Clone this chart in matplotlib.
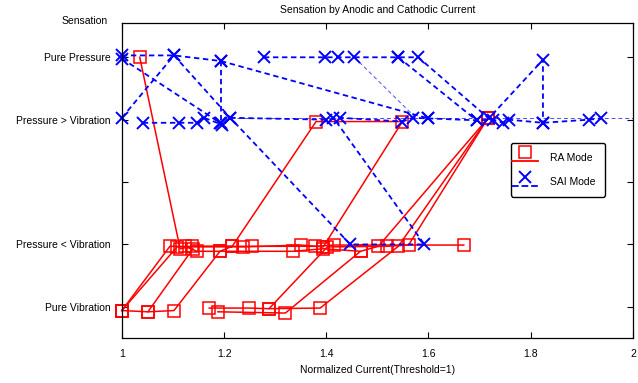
import matplotlib
matplotlib.use('Agg')
import matplotlib.pyplot as plt
from matplotlib.lines import Line2D
from matplotlib.legend_handler import HandlerBase

plt.rcParams['font.family'] = ['Liberation Sans', 'DejaVu Sans']

title = 'Sensation by Anodic and Cathodic Current'
xlabel = 'Normalized Current(Threshold=1)'
ylabel = 'Sensation'
ytick_vals = [1, 2, 3, 4, 5]
ytick_labels = ['Pure Vibration', 'Pressure < Vibration', '', 'Pressure > Vibration', 'Pure Pressure']
xtick_vals = [1, 1.2, 1.4, 1.6, 1.8, 2]
xtick_labels = ['1', '1.2', '1.4', '1.6', '1.8', '2']

# RA mode runs (normalized current, sensation)
ra_x = [
    [1.035, 1.114, 1.137, 1.255, 1.378, 1.416, 1.669],
    [1.0, 1.051, 1.102, 1.192, 1.216, 1.38, 1.549, 1.394, 1.351, 1.237, 1.094, 1.0],
    [1.051, 1.139, 1.124, 1.147, 1.192, 1.335, 1.394, 1.467],
    [1.188, 1.32, 1.467, 1.502, 1.716],
    [1.171, 1.249, 1.288, 1.388, 1.541, 1.716],
    [1.288, 1.402, 1.518, 1.561, 1.716],
    [1.0, 1.108, 1.216],
]
ra_y = [
    [5.0, 1.93, 1.97, 1.97, 1.97, 1.99, 1.99],
    [0.94, 0.92, 0.94, 1.89, 1.97, 3.97, 3.97, 1.96, 1.99, 1.96, 1.97, 0.94],
    [0.92, 1.93, 1.97, 1.89, 1.89, 1.89, 1.93, 1.89],
    [0.92, 0.90, 1.89, 1.97, 4.02],
    [0.98, 0.98, 0.97, 0.98, 1.97, 4.02],
    [0.97, 1.96, 1.97, 1.99, 4.02],
    [0.94, 1.96, 1.97],
]

# SAI mode runs
sai_x = [
    [1.0, 1.102, 1.212, 1.447, 1.592, 1.414],
    [1.0, 1.102, 1.194, 1.194],
    [1.0, 1.192],
    [1.194, 1.6],
    [1.278, 1.398, 1.422, 1.455, 1.541, 1.58, 1.718, 1.824, 1.824],
    [1.541, 1.694],
    [1.041, 1.112, 1.147, 1.161, 1.196],
    [1.212, 1.40, 1.427, 1.549, 1.569, 1.6, 1.694, 1.727, 1.745, 1.757, 1.824, 1.914, 1.937],
]
sai_y = [
    [4.03, 5.03, 4.03, 2.0, 2.0, 4.03],
    [5.03, 5.03, 4.94, 3.95],
    [4.98, 3.95],
    [4.94, 4.02],
    [5.0, 5.0, 5.0, 5.0, 5.0, 5.0, 4.02, 4.96, 3.95],
    [5.0, 3.99],
    [3.95, 3.95, 3.95, 4.03, 3.92],
    [4.03, 4.0, 4.03, 3.97, 4.03, 4.02, 3.99, 4.0, 3.95, 4.0, 3.95, 4.0, 4.02],
]
# thin guide runs
thin_x = [[1.455, 1.575], [1.212, 2.05]]
thin_y = [[5.0, 4.03], [4.02, 4.02]]


class MarkerAboveLine(HandlerBase):
    # matlab style legend entry: marker sits above the line sample
    def create_artists(self, legend, orig_handle, xdescent, ydescent,
                       width, height, fontsize, trans):
        x0 = -xdescent - 6
        yc = -ydescent + height / 2
        line = Line2D([x0, x0 + width], [yc - 3.2, yc - 3.2],
                      color=orig_handle.get_color(),
                      lw=orig_handle.get_linewidth(),
                      ls=orig_handle.get_linestyle())
        mk = Line2D([x0 + width / 2], [yc + 3.2], ls='none',
                    marker=orig_handle.get_marker(),
                    ms=orig_handle.get_markersize(),
                    mfc=orig_handle.get_markerfacecolor(),
                    mec=orig_handle.get_markeredgecolor(),
                    mew=orig_handle.get_markeredgewidth())
        line.set_transform(trans)
        mk.set_transform(trans)
        return [line, mk]


fig = plt.figure(figsize=(6.38, 3.83), dpi=100)
ax = fig.add_axes([0.191, 0.1175, 0.801, 0.8225])

for xs, ys in zip(ra_x, ra_y):
    ax.plot(xs, ys, color='red', lw=1.1, marker='s', ms=8, mfc='none',
            mec='red', mew=1.1, clip_on=False)
for xs, ys in zip(thin_x, thin_y):
    ax.plot(xs, ys, color='blue', lw=0.7, alpha=0.7, dashes=(4, 3))
for xs, ys in zip(sai_x, sai_y):
    ax.plot(xs, ys, color='blue', lw=1.3, dashes=(3, 2), marker='x', ms=8,
            mew=1.4, clip_on=False)

ax.set_xlim(1, 2)
ax.set_ylim(0.5, 5.55)
ax.set_xticks(xtick_vals)
ax.set_xticklabels(xtick_labels)
ax.set_yticks(ytick_vals)
ax.set_yticklabels(ytick_labels)
ax.tick_params(direction='in', length=4, labelsize=7.5, top=True, right=True,
               width=0.8)
ax.tick_params(axis='x', pad=8)
ax.tick_params(axis='y', pad=8)
for sp in ax.spines.values():
    sp.set_linewidth(0.9)

ax.set_title(title, fontsize=7.5, pad=7)
ax.set_xlabel(xlabel, fontsize=7.5, labelpad=4)
ax.text(-0.072, 1.006, ylabel, transform=ax.transAxes, ha='center',
        va='center', fontsize=7.5)

handles = [
    Line2D([], [], color='red', lw=1.3, marker='s', ms=8, mfc='none',
           mec='red', mew=1.1),
    Line2D([], [], color='blue', lw=1.3, ls='--', marker='x', ms=8,
           mec='blue', mfc='blue', mew=1.4),
]
leg = ax.legend(handles, ['RA Mode', 'SAI Mode'], loc='upper left',
                bbox_to_anchor=(0.752, 0.635), fontsize=7.5, fancybox=True,
                framealpha=1, edgecolor='black', handlelength=2.5,
                handletextpad=0.3, borderpad=0.9, labelspacing=1.4,
                handler_map={Line2D: MarkerAboveLine()})
leg.get_frame().set_linewidth(1.0)

fig.savefig('out.png', dpi=100)
